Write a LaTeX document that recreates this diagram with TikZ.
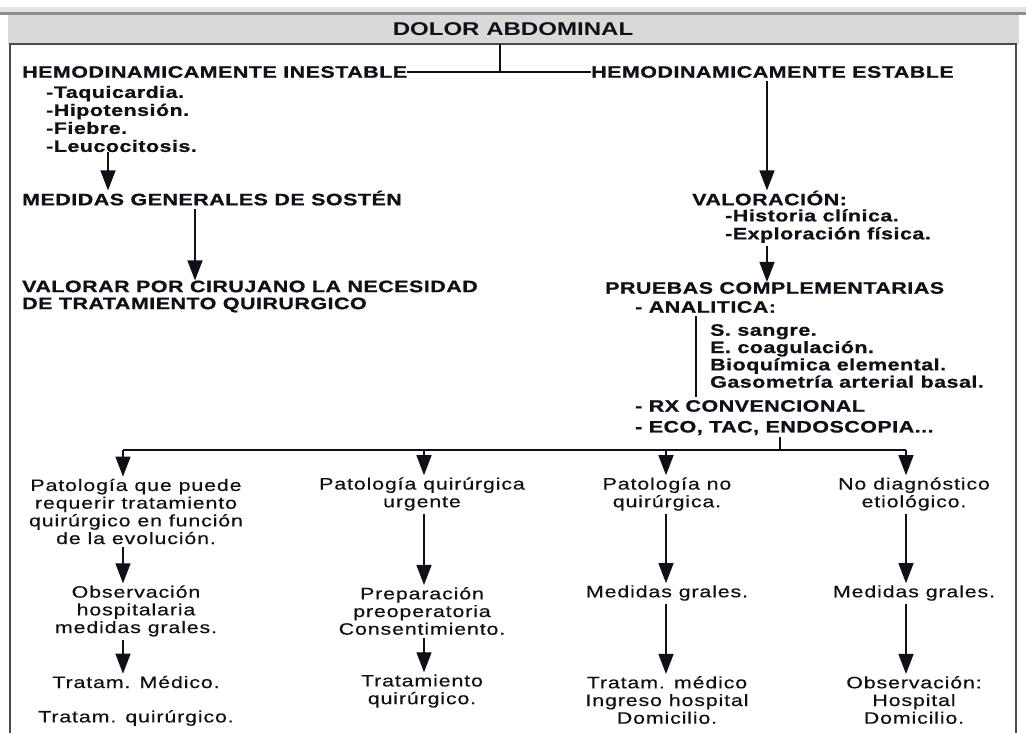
\documentclass[tikz,border=0pt]{standalone}
\usepackage{fontspec}
\usetikzlibrary{arrows.meta}
\setmainfont{Liberation Sans}
\newfontfamily\headfont[FakeStretch=1.3]{Liberation Sans Bold}
\newfontfamily\boldfont[FakeStretch=1.3,LetterSpace=3,FakeBold=1]{Liberation Sans Bold}
\newfontfamily\plainfont[FakeStretch=1.3,LetterSpace=5,FakeBold=0.4]{Liberation Sans}
\definecolor{ink}{HTML}{101018}
\definecolor{stripgray}{HTML}{E4E4E4}
\definecolor{rulegray}{HTML}{8C8C8C}
\definecolor{bandgray}{HTML}{D9D9D9}
\definecolor{framegray}{HTML}{4A4A4A}
\tikzset{
  bl/.style={font=\boldfont\fontsize{16.5}{18}\selectfont, inner sep=0pt, text=ink, align=left},
  pl/.style={font=\plainfont\fontsize{16.5}{17.7}\selectfont, inner sep=0pt, text=ink, align=center},
  arr/.style={line width=1.4pt, draw=ink, -{Triangle[width=15pt,length=20pt]}},
  ln/.style={line width=1.4pt, draw=ink},
}
\begin{document}
\begin{tikzpicture}[x=1pt,y=-1pt]
\useasboundingbox (0,0) rectangle (1026,732);
\fill[white] (0,0) rectangle (1026,732);
% header band and frame
\fill[stripgray] (0,7) rectangle (1026,12);
\fill[rulegray] (0,12) rectangle (1026,14.5);
\fill[bandgray] (8,14.5) rectangle (1019,44);
\coordinate (frametop) at (0,44);
\draw[framegray, line width=2pt] (10,740) -- (10,44) -- (1016,44) -- (1016,740);
\node[font=\headfont\fontsize{18.5}{20}\selectfont, text=ink, inner sep=0pt] (title) at (513,29) {DOLOR ABDOMINAL};

% first split
\node[bl, anchor=west] (ines) at (22,72) {HEMODINAMICAMENTE INESTABLE};
\node[bl, anchor=west] (est) at (591,72) {HEMODINAMICAMENTE ESTABLE};
\coordinate (split) at (500,72);
\draw[ln] (split |- frametop) -- (split);
\draw[ln] (ines.east) -- (est.west);

% unstable branch
\node[bl, anchor=west] (signs) at (46,119) {-Taquicardia.\\-Hipotensión.\\-Fiebre.\\-Leucocitosis.};
\node[bl, anchor=west] (sosten) at (22,198) {MEDIDAS GENERALES DE SOSTÉN};
\node[bl, anchor=west, font=\boldfont\fontsize{16.5}{17}\selectfont] (valorar) at (22,296.5) {VALORAR POR CIRUJANO LA NECESIDAD\\DE TRATAMIENTO QUIRURGICO};
\coordinate (xa) at (108,0);
\coordinate (xb) at (195,0);
\draw[arr] (signs.south -| xa) -- (sosten.north -| xa);
\draw[arr, shorten <=3pt] (sosten.south -| xb) -- (valorar.north -| xb);

% stable branch
\node[bl, anchor=west] (valor) at (692,198) {VALORACIÓN:};
\node[bl, anchor=west] (hist) at (725,226) {-Historia clínica.\\-Exploración física.};
\node[bl, anchor=west] (pruebas) at (605,288) {PRUEBAS COMPLEMENTARIAS};
\node[bl, anchor=west] (anal) at (635,307) {- ANALITICA:};
\node[bl, anchor=west, font=\boldfont\fontsize{16.5}{17.3}\selectfont] (labs) at (710,356) {S. sangre.\\E. coagulación.\\Bioquímica elemental.\\Gasometría arterial basal.};
\node[bl, anchor=west] (rx) at (635,406) {- RX CONVENCIONAL};
\node[bl, anchor=west] (eco) at (635,428) {- ECO, TAC, ENDOSCOPIA...};
\coordinate (xc) at (767,0);
\coordinate (xd) at (696,0);
\draw[arr, shorten <=3pt] (est.south -| xc) -- (valor.north -| xc);
\draw[arr, shorten <=3pt] (hist.south -| xc) -- (pruebas.north -| xc);
\draw[ln, shorten <=3pt, shorten >=3pt] (anal.south -| xd) -- (rx.north -| xd);

% distribution bar
\coordinate (bus) at (780,450);
\coordinate (c1) at (123,450);
\coordinate (c2) at (424,450);
\coordinate (c3) at (666,450);
\coordinate (c4) at (906,450);
\draw[ln, shorten <=2pt] (eco.south -| bus) -- (bus);
\draw[ln] (c1) -- (c4);

% outcome columns
\node[pl] (p1) at (136,511.5) {Patología que puede\\requerir tratamiento\\quirúrgico en función\\de la evolución.};
\node[pl] (o1) at (136,611) {Observación\\hospitalaria\\medidas grales.};
\node[pl] (t1a) at (136,682) {Tratam. Médico.};
\node[pl] (t1b) at (136,718) {Tratam. quirúrgico.};

\node[pl] (p2) at (422,494) {Patología quirúrgica\\urgente};
\node[pl] (o2) at (422,611) {Preparación\\preoperatoria\\Consentimiento.};
\node[pl] (t2) at (422,691) {Tratamiento\\quirúrgico.};

\node[pl] (p3) at (667,494) {Patología no\\quirúrgica.};
\node[pl] (m3) at (667,593) {Medidas grales.};
\node[pl] (t3) at (667,700) {Tratam. médico\\Ingreso hospital\\Domicilio.};

\node[pl] (p4) at (914,494) {No diagnóstico\\etiológico.};
\node[pl] (m4) at (914,593) {Medidas grales.};
\node[pl] (t4) at (914,700) {Observación:\\Hospital\\Domicilio.};

\draw[arr, shorten >=2pt] (c1) -- (p1.north -| c1);
\draw[arr, shorten >=2pt] (c2) -- (p2.north -| c2);
\draw[arr, shorten >=2pt] (c3) -- (p3.north -| c3);
\draw[arr, shorten >=2pt] (c4) -- (p4.north -| c4);

\draw[arr, shorten <=3pt, shorten >=2pt] (p1.south -| c1) -- (o1.north -| c1);
\draw[arr, shorten <=3pt, shorten >=2pt] (o1.south -| c1) -- (t1a.north -| c1);
\draw[arr, shorten <=3pt, shorten >=2pt] (p2.south -| c2) -- (o2.north -| c2);
\draw[arr, shorten <=3pt, shorten >=2pt] (o2.south -| c2) -- (t2.north -| c2);
\draw[arr, shorten <=3pt, shorten >=2pt] (p3.south -| c3) -- (m3.north -| c3);
\draw[arr, shorten <=3pt, shorten >=2pt] (m3.south -| c3) -- (t3.north -| c3);
\draw[arr, shorten <=3pt, shorten >=2pt] (p4.south -| c4) -- (m4.north -| c4);
\draw[arr, shorten <=3pt, shorten >=2pt] (m4.south -| c4) -- (t4.north -| c4);
\end{tikzpicture}
\end{document}
